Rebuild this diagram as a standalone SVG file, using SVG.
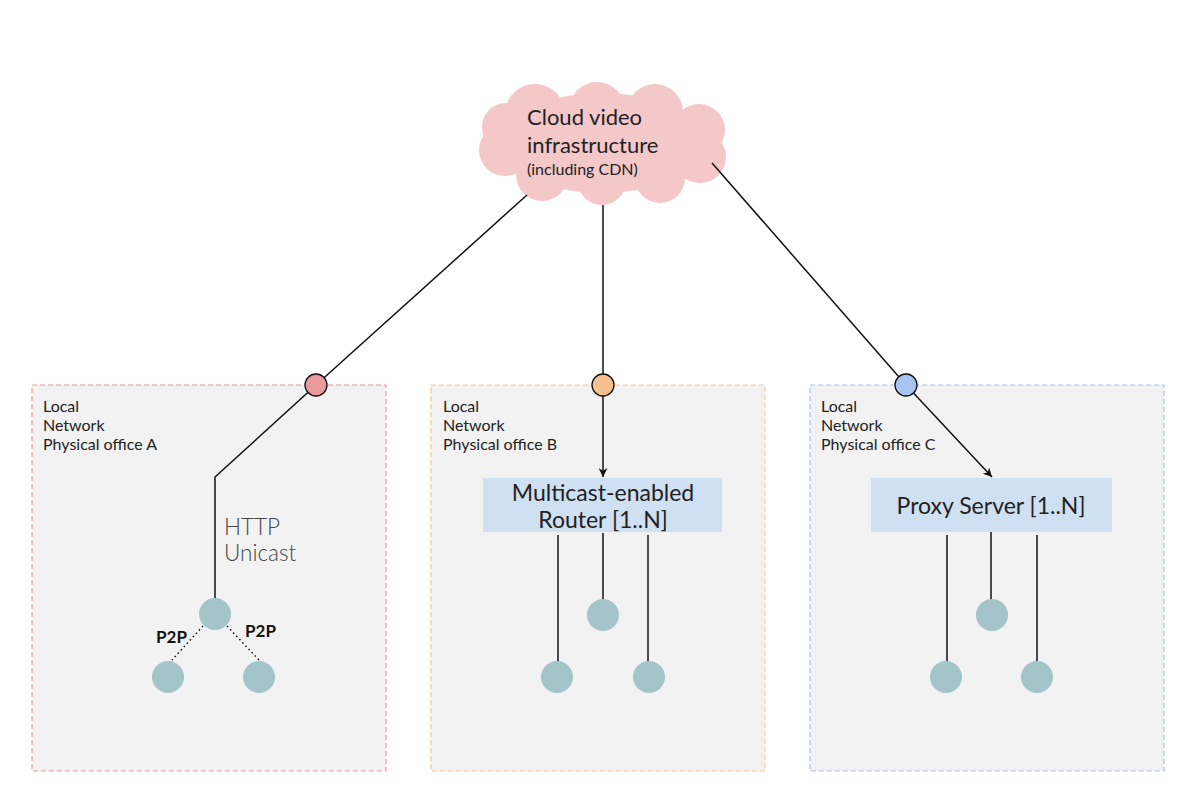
<svg xmlns="http://www.w3.org/2000/svg" width="1200" height="792" viewBox="0 0 1200 792">
<style>
.lbl{font-family:Lato,"Open Sans",sans-serif;font-size:16px;fill:#222}
.box{fill:#f2f2f2;stroke-width:1.2;stroke-dasharray:5 3}
.dev{fill:#a3c5ca}
.ln{stroke:#111;stroke-width:1.5;fill:none}
.port{stroke:#111;stroke-width:1.3}
.srv{fill:#cfe0f3}
.st{font-family:Lato,"Open Sans",sans-serif;font-size:23px;fill:#222;text-anchor:middle}
.p2p{font-family:Lato,"Open Sans",sans-serif;font-size:17px;font-weight:bold;fill:#111}
</style>
<defs>
<marker id="arr" viewBox="0 0 10 10" refX="10" refY="5" markerWidth="9" markerHeight="9" markerUnits="userSpaceOnUse" orient="auto">
<path d="M0,0 L10,5 L0,10 L3,5 z" fill="#111"/>
</marker>
</defs>
<rect width="1200" height="792" fill="#fff"/>

<g id="officeA">
<rect class="box" x="32" y="385" width="354" height="386" stroke="#ef9a9a"/>
<text class="lbl" x="43" y="412">Local</text>
<text class="lbl" x="43" y="431">Network</text>
<text class="lbl" x="43" y="450">Physical office A</text>
</g>
<g id="officeB">
<rect class="box" x="431" y="385" width="334" height="386" stroke="#f5c6a0"/>
<text class="lbl" x="443" y="412">Local</text>
<text class="lbl" x="443" y="431">Network</text>
<text class="lbl" x="443" y="450">Physical office B</text>
</g>
<g id="officeC">
<rect class="box" x="810" y="385" width="354" height="386" stroke="#a9c1e6"/>
<text class="lbl" x="821" y="412">Local</text>
<text class="lbl" x="821" y="431">Network</text>
<text class="lbl" x="821" y="450">Physical office C</text>
</g>

<g id="cloud">
<g fill="#f4c7c9">
<ellipse cx="602" cy="143" rx="100" ry="50"/>
<circle cx="535" cy="114" r="30"/>
<circle cx="597" cy="110" r="28"/>
<circle cx="655" cy="112" r="28"/>
<circle cx="699" cy="130" r="26"/>
<circle cx="700" cy="157" r="26"/>
<circle cx="660" cy="178" r="25"/>
<circle cx="602" cy="181" r="24"/>
<circle cx="542" cy="175" r="26"/>
<circle cx="505" cy="150" r="26"/>
<circle cx="506" cy="127" r="24"/>
</g>
<text x="527" y="125" font-family="Lato,'Open Sans',sans-serif" font-size="22" fill="#222">Cloud video</text>
<text x="527" y="153" font-family="Lato,'Open Sans',sans-serif" font-size="22" fill="#222">infrastructure</text>
<text x="527" y="175" font-family="Lato,'Open Sans',sans-serif" font-size="16" fill="#222">(including CDN)</text>
</g>

<g id="router">
<rect class="srv" x="483" y="478" width="239" height="54"/>
<text class="st" x="603" y="501">Multicast-enabled</text>
<text class="st" x="603" y="528">Router [1..N]</text>
</g>
<g id="proxy">
<rect class="srv" x="871" y="478" width="241" height="54"/>
<text class="st" x="991" y="514">Proxy Server [1..N]</text>
</g>

<g id="connectors">
<line class="ln" x1="527" y1="195" x2="316" y2="385"/>
<polyline class="ln" points="316,385 215,477 215,600"/>
<line class="ln" x1="603" y1="205" x2="603" y2="385"/>
<line class="ln" x1="603" y1="385" x2="603" y2="477" marker-end="url(#arr)"/>
<line class="ln" x1="712" y1="163" x2="906" y2="385"/>
<line class="ln" x1="906" y1="385" x2="992" y2="477" marker-end="url(#arr)"/>
<line x1="203" y1="626" x2="172" y2="660" stroke="#111" stroke-width="1.5" stroke-dasharray="1.5 3"/>
<line x1="227" y1="626" x2="259" y2="660" stroke="#111" stroke-width="1.5" stroke-dasharray="1.5 3"/>
<line class="ln" x1="558" y1="535" x2="558" y2="662"/>
<line class="ln" x1="603" y1="533" x2="603" y2="600"/>
<line class="ln" x1="648" y1="535" x2="648" y2="662"/>
<line class="ln" x1="947" y1="535" x2="947" y2="662"/>
<line class="ln" x1="991" y1="532" x2="991" y2="600"/>
<line class="ln" x1="1037" y1="535" x2="1037" y2="662"/>
<text x="224" y="535" font-family="Lato,'Open Sans',sans-serif" font-size="22.5" font-weight="300" fill="#444">HTTP</text>
<text x="224" y="561" font-family="Lato,'Open Sans',sans-serif" font-size="22.5" font-weight="300" fill="#444">Unicast</text>
<text class="p2p" x="156" y="643">P2P</text>
<text class="p2p" x="245" y="637">P2P</text>
</g>

<g id="portA"><circle class="port" cx="316" cy="385" r="11" fill="#e89a9c"/></g>
<g id="portB"><circle class="port" cx="603" cy="385" r="11" fill="#f7c08e"/></g>
<g id="portC"><circle class="port" cx="906" cy="385" r="11" fill="#a6c4ef"/></g>

<g id="nodeA1"><circle class="dev" cx="215" cy="614" r="16"/></g>
<g id="nodeA2"><circle class="dev" cx="168" cy="677" r="16"/></g>
<g id="nodeA3"><circle class="dev" cx="259" cy="677" r="16"/></g>
<g id="nodeB1"><circle class="dev" cx="603" cy="615" r="16"/></g>
<g id="nodeB2"><circle class="dev" cx="557" cy="677" r="16"/></g>
<g id="nodeB3"><circle class="dev" cx="649" cy="677" r="16"/></g>
<g id="nodeC1"><circle class="dev" cx="992" cy="615" r="16"/></g>
<g id="nodeC2"><circle class="dev" cx="946" cy="677" r="16"/></g>
<g id="nodeC3"><circle class="dev" cx="1037" cy="677" r="16"/></g>
</svg>
